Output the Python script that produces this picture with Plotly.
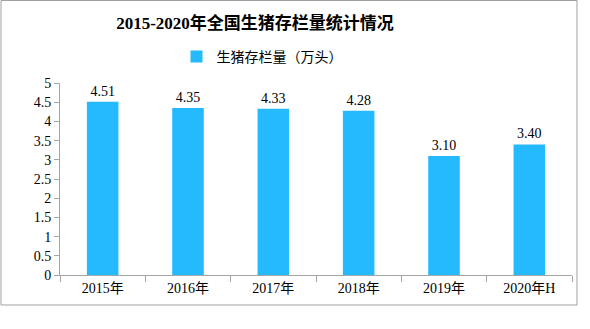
import plotly.graph_objects as go

categories = ["2015年", "2016年", "2017年", "2018年", "2019年", "2020年H"]
values = [4.51, 4.35, 4.33, 4.28, 3.10, 3.40]
labels = ["4.51", "4.35", "4.33", "4.28", "3.10", "3.40"]
series_name = "生猪存栏量（万头）"
title = "2015-2020年全国生猪存栏量统计情况"

font_main = "Liberation Serif, Noto Sans CJK SC, serif"
bar_color = "#25B9FD"

fig = go.Figure()
fig.add_trace(go.Bar(
    x=categories, y=values, name=series_name,
    marker=dict(color=bar_color, line=dict(width=0)),
    text=labels, textposition="outside", cliponaxis=False,
    textfont=dict(size=14, color="#000000", family=font_main),
))

L, R, T, B = 60, 18, 83, 54
W, H = 590, 329
pw = W - L - R
ph = H - T - B

def px_x(p):
    return (p - L) / pw

def px_y(p):
    return (H - B - p) / ph

fig.update_layout(
    width=W, height=H,
    margin=dict(l=L, r=R, t=T, b=B),
    paper_bgcolor="white", plot_bgcolor="white",
    bargap=0.63,
    font=dict(family=font_main, size=14, color="#000000"),
    title=dict(text="<b>" + title + "</b>", x=(255) / W, xanchor="center",
               y=1 - 23 / H, yanchor="middle",
               font=dict(size=17, family=font_main, color="#000000")),
    showlegend=True,
    legend=dict(orientation="h", x=px_x(262), xanchor="center",
                y=px_y(57), yanchor="middle",
                font=dict(size=14, family="Noto Sans CJK SC, sans-serif"),
                itemwidth=30, bgcolor="rgba(0,0,0,0)"),
    xaxis=dict(type="category", showline=True, linecolor="#a6a6a6", linewidth=1,
               ticks="outside", tickson="boundaries", ticklen=6, tickcolor="#a6a6a6",
               showgrid=False, tickfont=dict(size=14, family=font_main)),
    yaxis=dict(range=[0, 5], dtick=0.5, showline=True, linecolor="#a6a6a6", linewidth=1,
               ticks="outside", ticklen=5, tickcolor="#a6a6a6", showgrid=False,
               zeroline=False, tickfont=dict(size=14, family=font_main),
               tickformat="~g"),
)

fig.add_shape(type="rect", xref="paper", yref="paper",
              x0=px_x(1), x1=px_x(577), y0=px_y(305), y1=px_y(0.5),
              line=dict(color="#a0a0a0", width=1), fillcolor="rgba(0,0,0,0)", layer="below")

fig.write_html("out.html")
